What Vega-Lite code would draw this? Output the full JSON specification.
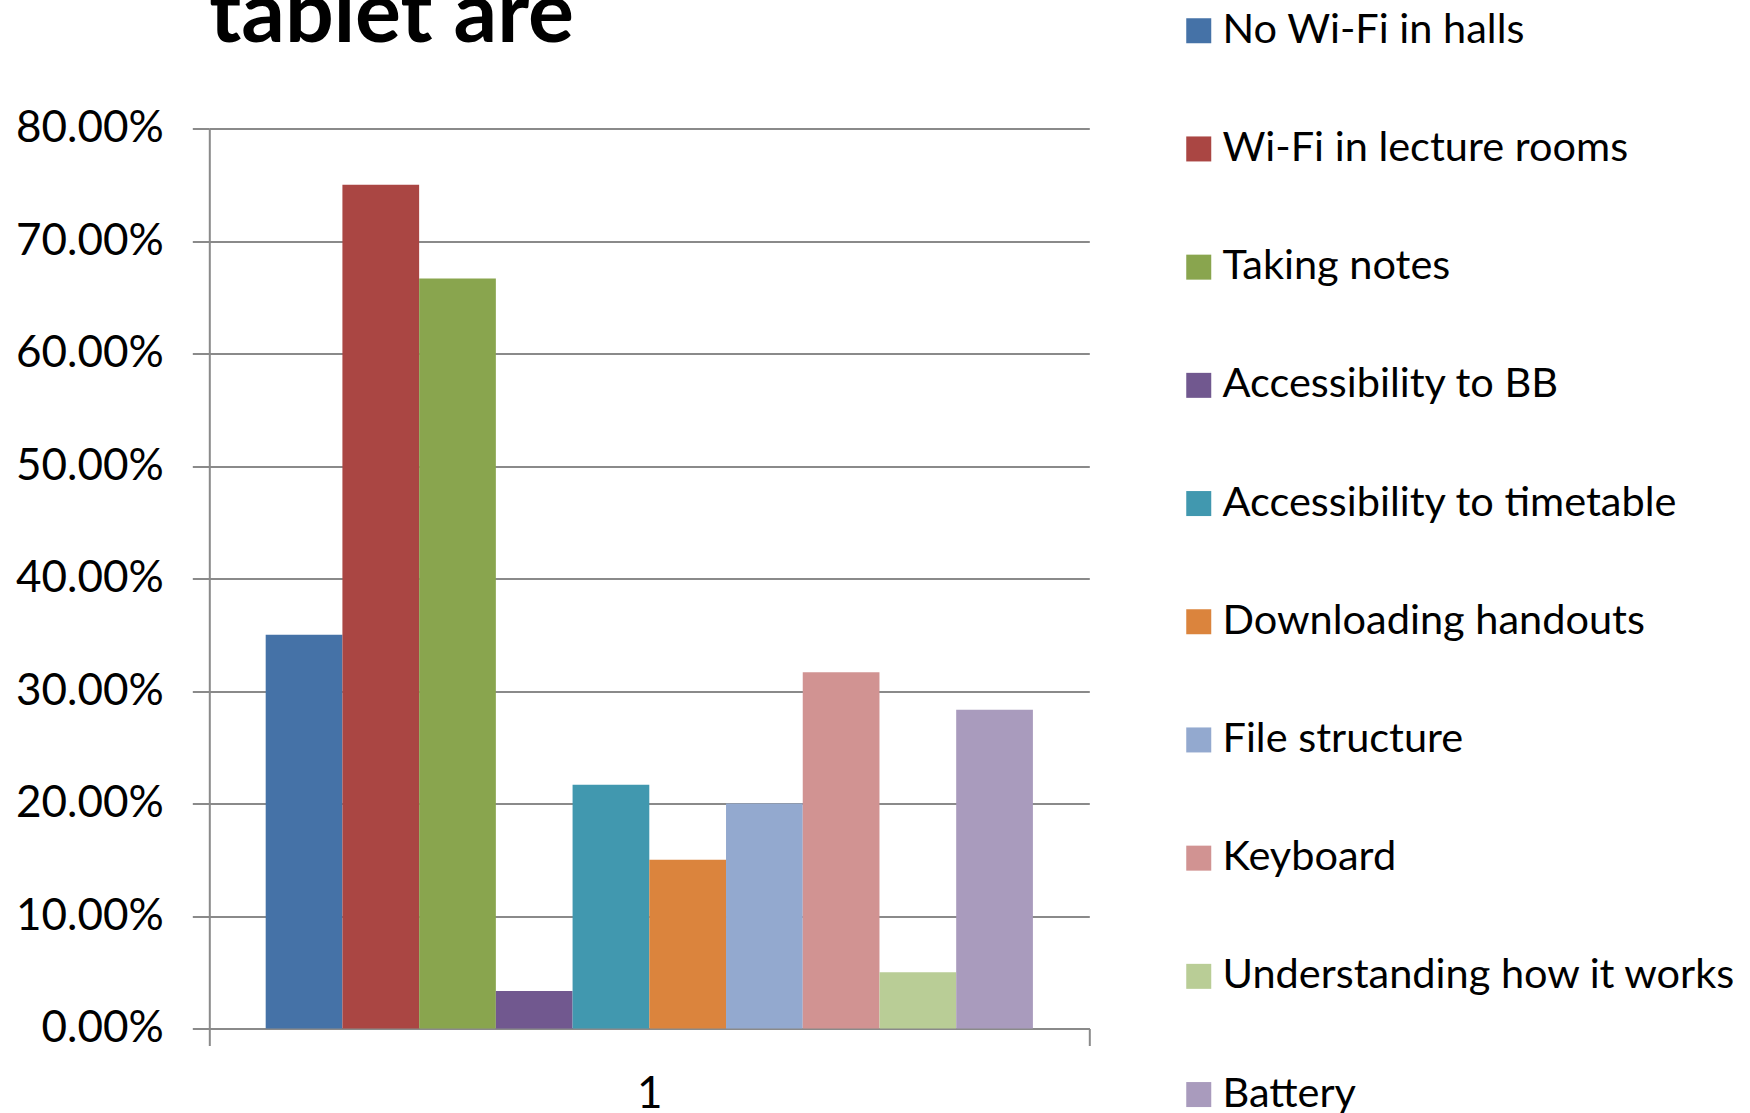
{
  "$schema": "https://vega.github.io/schema/vega-lite/v6.json",
  "autosize": {"type": "none"},
  "width": 880,
  "height": 900,
  "padding": {"left": 209.3, "top": 128.5, "right": 660.7, "bottom": 84.5},
  "background": "white",
  "title": {
    "text": "tablet are",
    "anchor": "start",
    "frame": "group",
    "font": "Lato",
    "fontSize": 86,
    "fontWeight": "bold",
    "color": "#000000",
    "baseline": "alphabetic",
    "offset": 0,
    "dy": 118,
    "dx": 0
  },
  "data": {
    "values": [
      {"cat": "1", "series": "No Wi-Fi in halls", "value": 0.35},
      {"cat": "1", "series": "Wi-Fi in lecture rooms", "value": 0.75},
      {"cat": "1", "series": "Taking notes", "value": 0.6667},
      {"cat": "1", "series": "Accessibility to BB", "value": 0.0333},
      {"cat": "1", "series": "Accessibility to timetable", "value": 0.2167},
      {"cat": "1", "series": "Downloading handouts", "value": 0.15},
      {"cat": "1", "series": "File structure", "value": 0.20},
      {"cat": "1", "series": "Keyboard", "value": 0.3167},
      {"cat": "1", "series": "Understanding how it works", "value": 0.05},
      {"cat": "1", "series": "Battery", "value": 0.2833}
    ]
  },
  "mark": {"type": "bar", "strokeWidth": 0},
  "encoding": {
    "x": {
      "field": "cat",
      "type": "nominal",
      "scale": {"paddingInner": 0, "paddingOuter": 0},
      "axis": {
        "title": null,
        "tickBand": "extent",
        "labelAngle": 0,
        "labelFont": "Lato",
        "labelFontSize": 44,
        "labelColor": "#000000",
        "labelPadding": 27,
        "tickSize": 17,
        "tickColor": "#8a8a8a",
        "tickWidth": 2,
        "domainColor": "#8a8a8a",
        "domainWidth": 2
      }
    },
    "xOffset": {
      "field": "series",
      "type": "nominal",
      "sort": ["No Wi-Fi in halls", "Wi-Fi in lecture rooms", "Taking notes", "Accessibility to BB", "Accessibility to timetable", "Downloading handouts", "File structure", "Keyboard", "Understanding how it works", "Battery"],
      "scale": {"paddingInner": 0, "paddingOuter": 0.735}
    },
    "y": {
      "field": "value",
      "type": "quantitative",
      "scale": {"domain": [0, 0.8], "nice": false},
      "axis": {
        "title": null,
        "format": ".2%",
        "values": [0, 0.1, 0.2, 0.3, 0.4, 0.5, 0.6, 0.7, 0.8],
        "labelFont": "Lato",
        "labelFontSize": 44,
        "labelColor": "#000000",
        "labelPadding": 29,
        "tickSize": 17,
        "tickColor": "#8a8a8a",
        "tickWidth": 2,
        "domainColor": "#8a8a8a",
        "domainWidth": 2,
        "grid": true,
        "gridColor": "#8a8a8a",
        "gridWidth": 2
      }
    },
    "color": {
      "field": "series",
      "type": "nominal",
      "sort": ["No Wi-Fi in halls", "Wi-Fi in lecture rooms", "Taking notes", "Accessibility to BB", "Accessibility to timetable", "Downloading handouts", "File structure", "Keyboard", "Understanding how it works", "Battery"],
      "scale": {
        "domain": ["No Wi-Fi in halls", "Wi-Fi in lecture rooms", "Taking notes", "Accessibility to BB", "Accessibility to timetable", "Downloading handouts", "File structure", "Keyboard", "Understanding how it works", "Battery"],
        "range": ["#4572A7", "#AA4643", "#89A54E", "#71588F", "#4198AF", "#DB843D", "#93A9CF", "#D19392", "#B9CD96", "#A99BBD"]
      },
      "legend": {
        "title": null,
        "orient": "none",
        "legendX": 968.7,
        "legendY": -118.5,
        "padding": 0,
        "symbolType": "square",
        "symbolSize": 625,
        "symbolStrokeWidth": 0,
        "symbolOpacity": 1,
        "labelFont": "Lato",
        "labelFontSize": 41.5,
        "labelColor": "#000000",
        "labelOffset": 3,
        "labelLimit": 0,
        "rowPadding": 75.2
      }
    }
  },
  "config": {"view": {"stroke": null}}
}
